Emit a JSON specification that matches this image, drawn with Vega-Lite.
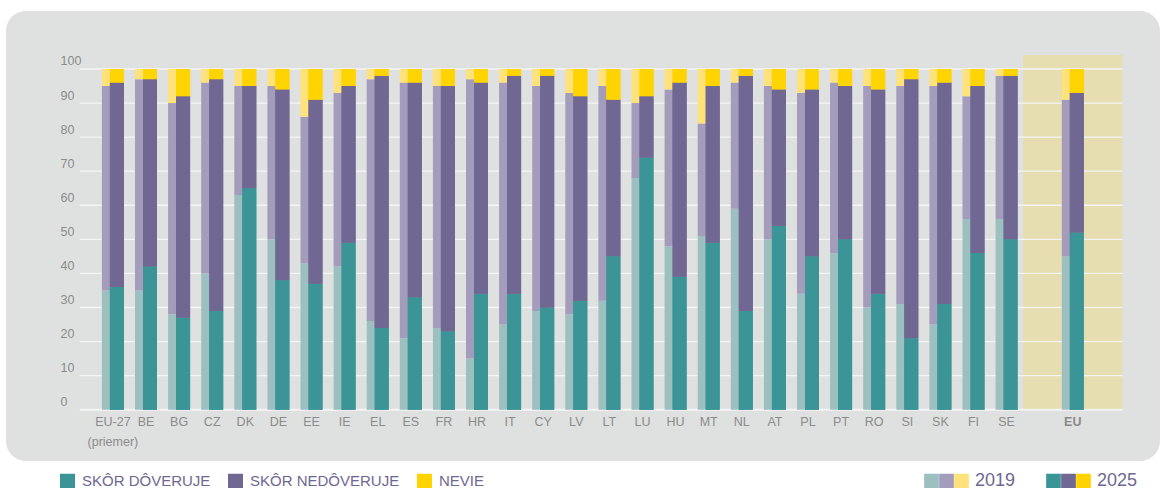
{
  "$schema": "https://vega.github.io/schema/vega-lite/v6.json",
  "width": 1154,
  "height": 450,
  "autosize": {"type": "none"},
  "padding": {"left": 6, "top": 11, "right": 2, "bottom": 27},
  "background": "#ffffff",
  "config": {
    "view": {"fill": "#dfe1e0", "stroke": null, "cornerRadius": 20},
    "font": "Liberation Sans, Arial, sans-serif"
  },
  "data": {
    "values": [
      {"c": "EU-27", "year": "2019", "SKÔR DÔVERUJE": 35, "SKÔR NEDÔVERUJE": 60, "NEVIE": 5},
      {"c": "EU-27", "year": "2025", "SKÔR DÔVERUJE": 36, "SKÔR NEDÔVERUJE": 60, "NEVIE": 4},
      {"c": "BE", "year": "2019", "SKÔR DÔVERUJE": 35, "SKÔR NEDÔVERUJE": 62, "NEVIE": 3},
      {"c": "BE", "year": "2025", "SKÔR DÔVERUJE": 42, "SKÔR NEDÔVERUJE": 55, "NEVIE": 3},
      {"c": "BG", "year": "2019", "SKÔR DÔVERUJE": 28, "SKÔR NEDÔVERUJE": 62, "NEVIE": 10},
      {"c": "BG", "year": "2025", "SKÔR DÔVERUJE": 27, "SKÔR NEDÔVERUJE": 65, "NEVIE": 8},
      {"c": "CZ", "year": "2019", "SKÔR DÔVERUJE": 40, "SKÔR NEDÔVERUJE": 56, "NEVIE": 4},
      {"c": "CZ", "year": "2025", "SKÔR DÔVERUJE": 29, "SKÔR NEDÔVERUJE": 68, "NEVIE": 3},
      {"c": "DK", "year": "2019", "SKÔR DÔVERUJE": 63, "SKÔR NEDÔVERUJE": 32, "NEVIE": 5},
      {"c": "DK", "year": "2025", "SKÔR DÔVERUJE": 65, "SKÔR NEDÔVERUJE": 30, "NEVIE": 5},
      {"c": "DE", "year": "2019", "SKÔR DÔVERUJE": 50, "SKÔR NEDÔVERUJE": 45, "NEVIE": 5},
      {"c": "DE", "year": "2025", "SKÔR DÔVERUJE": 38, "SKÔR NEDÔVERUJE": 56, "NEVIE": 6},
      {"c": "EE", "year": "2019", "SKÔR DÔVERUJE": 43, "SKÔR NEDÔVERUJE": 43, "NEVIE": 14},
      {"c": "EE", "year": "2025", "SKÔR DÔVERUJE": 37, "SKÔR NEDÔVERUJE": 54, "NEVIE": 9},
      {"c": "IE", "year": "2019", "SKÔR DÔVERUJE": 42, "SKÔR NEDÔVERUJE": 51, "NEVIE": 7},
      {"c": "IE", "year": "2025", "SKÔR DÔVERUJE": 49, "SKÔR NEDÔVERUJE": 46, "NEVIE": 5},
      {"c": "EL", "year": "2019", "SKÔR DÔVERUJE": 26, "SKÔR NEDÔVERUJE": 71, "NEVIE": 3},
      {"c": "EL", "year": "2025", "SKÔR DÔVERUJE": 24, "SKÔR NEDÔVERUJE": 74, "NEVIE": 2},
      {"c": "ES", "year": "2019", "SKÔR DÔVERUJE": 21, "SKÔR NEDÔVERUJE": 75, "NEVIE": 4},
      {"c": "ES", "year": "2025", "SKÔR DÔVERUJE": 33, "SKÔR NEDÔVERUJE": 63, "NEVIE": 4},
      {"c": "FR", "year": "2019", "SKÔR DÔVERUJE": 24, "SKÔR NEDÔVERUJE": 71, "NEVIE": 5},
      {"c": "FR", "year": "2025", "SKÔR DÔVERUJE": 23, "SKÔR NEDÔVERUJE": 72, "NEVIE": 5},
      {"c": "HR", "year": "2019", "SKÔR DÔVERUJE": 15, "SKÔR NEDÔVERUJE": 82, "NEVIE": 3},
      {"c": "HR", "year": "2025", "SKÔR DÔVERUJE": 34, "SKÔR NEDÔVERUJE": 62, "NEVIE": 4},
      {"c": "IT", "year": "2019", "SKÔR DÔVERUJE": 25, "SKÔR NEDÔVERUJE": 71, "NEVIE": 4},
      {"c": "IT", "year": "2025", "SKÔR DÔVERUJE": 34, "SKÔR NEDÔVERUJE": 64, "NEVIE": 2},
      {"c": "CY", "year": "2019", "SKÔR DÔVERUJE": 29, "SKÔR NEDÔVERUJE": 66, "NEVIE": 5},
      {"c": "CY", "year": "2025", "SKÔR DÔVERUJE": 30, "SKÔR NEDÔVERUJE": 68, "NEVIE": 2},
      {"c": "LV", "year": "2019", "SKÔR DÔVERUJE": 28, "SKÔR NEDÔVERUJE": 65, "NEVIE": 7},
      {"c": "LV", "year": "2025", "SKÔR DÔVERUJE": 32, "SKÔR NEDÔVERUJE": 60, "NEVIE": 8},
      {"c": "LT", "year": "2019", "SKÔR DÔVERUJE": 32, "SKÔR NEDÔVERUJE": 63, "NEVIE": 5},
      {"c": "LT", "year": "2025", "SKÔR DÔVERUJE": 45, "SKÔR NEDÔVERUJE": 46, "NEVIE": 9},
      {"c": "LU", "year": "2019", "SKÔR DÔVERUJE": 68, "SKÔR NEDÔVERUJE": 22, "NEVIE": 10},
      {"c": "LU", "year": "2025", "SKÔR DÔVERUJE": 74, "SKÔR NEDÔVERUJE": 18, "NEVIE": 8},
      {"c": "HU", "year": "2019", "SKÔR DÔVERUJE": 48, "SKÔR NEDÔVERUJE": 46, "NEVIE": 6},
      {"c": "HU", "year": "2025", "SKÔR DÔVERUJE": 39, "SKÔR NEDÔVERUJE": 57, "NEVIE": 4},
      {"c": "MT", "year": "2019", "SKÔR DÔVERUJE": 51, "SKÔR NEDÔVERUJE": 33, "NEVIE": 16},
      {"c": "MT", "year": "2025", "SKÔR DÔVERUJE": 49, "SKÔR NEDÔVERUJE": 46, "NEVIE": 5},
      {"c": "NL", "year": "2019", "SKÔR DÔVERUJE": 59, "SKÔR NEDÔVERUJE": 37, "NEVIE": 4},
      {"c": "NL", "year": "2025", "SKÔR DÔVERUJE": 29, "SKÔR NEDÔVERUJE": 69, "NEVIE": 2},
      {"c": "AT", "year": "2019", "SKÔR DÔVERUJE": 50, "SKÔR NEDÔVERUJE": 45, "NEVIE": 5},
      {"c": "AT", "year": "2025", "SKÔR DÔVERUJE": 54, "SKÔR NEDÔVERUJE": 40, "NEVIE": 6},
      {"c": "PL", "year": "2019", "SKÔR DÔVERUJE": 34, "SKÔR NEDÔVERUJE": 59, "NEVIE": 7},
      {"c": "PL", "year": "2025", "SKÔR DÔVERUJE": 45, "SKÔR NEDÔVERUJE": 49, "NEVIE": 6},
      {"c": "PT", "year": "2019", "SKÔR DÔVERUJE": 46, "SKÔR NEDÔVERUJE": 50, "NEVIE": 4},
      {"c": "PT", "year": "2025", "SKÔR DÔVERUJE": 50, "SKÔR NEDÔVERUJE": 45, "NEVIE": 5},
      {"c": "RO", "year": "2019", "SKÔR DÔVERUJE": 30, "SKÔR NEDÔVERUJE": 65, "NEVIE": 5},
      {"c": "RO", "year": "2025", "SKÔR DÔVERUJE": 34, "SKÔR NEDÔVERUJE": 60, "NEVIE": 6},
      {"c": "SI", "year": "2019", "SKÔR DÔVERUJE": 31, "SKÔR NEDÔVERUJE": 64, "NEVIE": 5},
      {"c": "SI", "year": "2025", "SKÔR DÔVERUJE": 21, "SKÔR NEDÔVERUJE": 76, "NEVIE": 3},
      {"c": "SK", "year": "2019", "SKÔR DÔVERUJE": 25, "SKÔR NEDÔVERUJE": 70, "NEVIE": 5},
      {"c": "SK", "year": "2025", "SKÔR DÔVERUJE": 31, "SKÔR NEDÔVERUJE": 65, "NEVIE": 4},
      {"c": "FI", "year": "2019", "SKÔR DÔVERUJE": 56, "SKÔR NEDÔVERUJE": 36, "NEVIE": 8},
      {"c": "FI", "year": "2025", "SKÔR DÔVERUJE": 46, "SKÔR NEDÔVERUJE": 49, "NEVIE": 5},
      {"c": "SE", "year": "2019", "SKÔR DÔVERUJE": 56, "SKÔR NEDÔVERUJE": 42, "NEVIE": 2},
      {"c": "SE", "year": "2025", "SKÔR DÔVERUJE": 50, "SKÔR NEDÔVERUJE": 48, "NEVIE": 2},
      {"c": "EU", "year": "2019", "SKÔR DÔVERUJE": 45, "SKÔR NEDÔVERUJE": 46, "NEVIE": 9},
      {"c": "EU", "year": "2025", "SKÔR DÔVERUJE": 52, "SKÔR NEDÔVERUJE": 41, "NEVIE": 7}
    ]
  },
  "transform": [
    {"fold": ["SKÔR DÔVERUJE", "SKÔR NEDÔVERUJE", "NEVIE"], "as": ["category", "value"]}
  ],
  "layer": [
    {
      "data": {"values": [{"zone": "EU"}]},
      "mark": {"type": "rect", "color": "#e6ddb0"},
      "encoding": {
        "x": {
          "datum": "g1", "bandPosition": 0, "type": "nominal",
          "scale": {"domain": ["p1", "p2", "EU-27", "BE", "BG", "CZ", "DK", "DE", "EE", "IE", "EL", "ES", "FR", "HR", "IT", "CY", "LV", "LT", "LU", "HU", "MT", "NL", "AT", "PL", "PT", "RO", "SI", "SK", "FI", "SE", "g1", "EU", "g2"], "paddingInner": 0, "paddingOuter": 0.932, "align": 0.3914},
          "axis": {
            "title": null, "domain": false, "ticks": false, "tickSize": 0, "grid": false,
            "labelPadding": -46, "labelBaseline": "top", "labelFontSize": 12.5, "labelColor": "#8a8b8b",
            "labelLineHeight": 20, "labelOverlap": false, "labelAngle": 0,
            "labelExpr": "datum.value == 'EU-27' ? ['EU-27', '(priemer)'] : (indexof(['p1','p2','g1','g2'], datum.value) >= 0 ? '' : datum.value)",
            "labelFontWeight": {"condition": {"test": "datum.value == 'EU'", "value": "bold"}, "value": "normal"}
          }
        },
        "x2": {"datum": "g2", "bandPosition": 1},
        "y": {"datum": 104.1, "type": "quantitative", "scale": {"domain": [-15.06, 117.02], "nice": false, "zero": false}},
        "y2": {"datum": 0}
      }
    },
    {
      "data": {"values": [{"v": 0}, {"v": 10}, {"v": 20}, {"v": 30}, {"v": 40}, {"v": 50}, {"v": 60}, {"v": 70}, {"v": 80}, {"v": 90}, {"v": 100}]},
      "mark": {"type": "rule", "color": "#f4f4f4"},
      "encoding": {
        "x": {"datum": "p2", "bandPosition": 0.5, "type": "nominal"},
        "x2": {"datum": "g2", "bandPosition": 1},
        "y": {"field": "v", "type": "quantitative", "scale": {"domain": [-15.06, 117.02], "nice": false, "zero": false}},
        "strokeWidth": {"condition": {"test": "datum.v == 0", "value": 2}, "value": 1.3}
      }
    },
    {
      "transform": [{"filter": "datum.year == '2019'"}],
      "mark": {"type": "bar", "width": 14, "xOffset": -4},
      "encoding": {
        "x": {"field": "c", "type": "nominal"},
        "y": {
          "field": "value", "type": "quantitative", "stack": "zero",
          "scale": {"domain": [-15.06, 117.02], "nice": false, "zero": false},
          "axis": {
            "title": null, "values": [0, 10, 20, 30, 40, 50, 60, 70, 80, 90, 100], "grid": false, "domain": false,
            "ticks": false, "tickSize": 0, "labelAlign": "left", "labelPadding": -54, "labelBaseline": "alphabetic",
            "labelOffset": -4, "labelFontSize": 12.5, "labelColor": "#8a8b8b"
          }
        },
        "order": {"field": "c"},
        "color": {
          "field": "category", "type": "nominal",
          "sort": ["SKÔR DÔVERUJE", "SKÔR NEDÔVERUJE", "NEVIE"],
          "scale": {"range": ["#9cbfc0", "#a39cbb", "#ffe27a"]},
          "legend": {
            "orient": "none", "legendX": 918, "legendY": 462.5, "direction": "horizontal",
            "title": "2019", "titleOrient": "right", "titleFontSize": 18, "titleColor": "#6e6891",
            "titleFontWeight": "normal", "titlePadding": 6, "symbolType": "square", "symbolSize": 216,
            "symbolStrokeWidth": 0, "labelExpr": "''", "labelOffset": 0, "columnPadding": 0, "labelFontSize": 1
          }
        }
      }
    },
    {
      "transform": [{"filter": "datum.year == '2025'"}],
      "mark": {"type": "bar", "width": 14, "xOffset": 4},
      "encoding": {
        "x": {"field": "c", "type": "nominal"},
        "y": {"field": "value", "type": "quantitative", "stack": "zero"},
        "order": {"field": "c"},
        "color": {
          "field": "category", "type": "nominal",
          "sort": ["SKÔR DÔVERUJE", "SKÔR NEDÔVERUJE", "NEVIE"],
          "scale": {"range": ["#3b9596", "#706893", "#ffd400"]},
          "legend": {
            "orient": "none", "legendX": 1040, "legendY": 462.5, "direction": "horizontal",
            "title": "2025", "titleOrient": "right", "titleFontSize": 18, "titleColor": "#6e6891",
            "titleFontWeight": "normal", "titlePadding": 6, "symbolType": "square", "symbolSize": 216,
            "symbolStrokeWidth": 0, "labelExpr": "''", "labelOffset": 0, "columnPadding": 0, "labelFontSize": 1
          }
        }
      }
    },
    {
      "transform": [{"filter": "datum.year == '2025'"}],
      "mark": {"type": "bar", "width": 14, "xOffset": 4},
      "encoding": {
        "x": {"field": "c", "type": "nominal"},
        "y": {"field": "value", "type": "quantitative", "stack": "zero"},
        "order": {"field": "c"},
        "color": {
          "field": "category", "type": "nominal",
          "sort": ["SKÔR DÔVERUJE", "SKÔR NEDÔVERUJE", "NEVIE"],
          "scale": {"range": ["#3b9596", "#706893", "#ffd400"]},
          "legend": {
            "orient": "none", "legendX": 54, "legendY": 462.5, "direction": "horizontal",
            "title": null, "symbolType": "square", "symbolSize": 225, "symbolStrokeWidth": 0,
            "labelFontSize": 15, "labelColor": "#6e6891", "labelOffset": 7, "columnPadding": 17, "labelLimit": 400
          }
        }
      }
    }
  ],
  "resolve": {"scale": {"color": "independent"}, "legend": {"color": "independent"}}
}
